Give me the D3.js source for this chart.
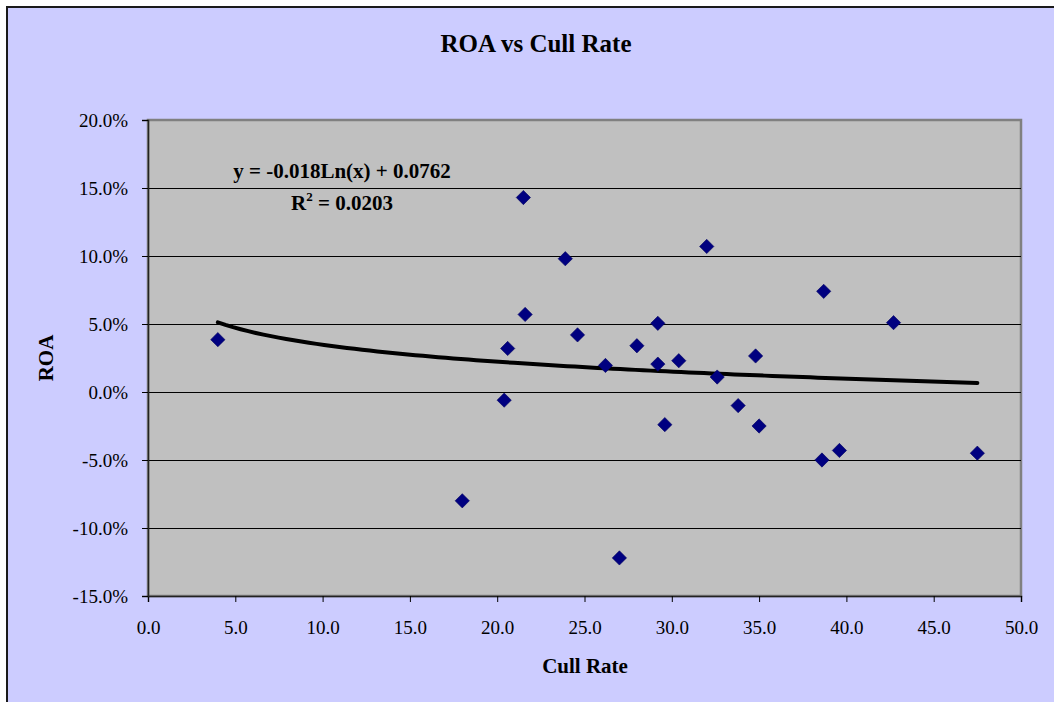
<!DOCTYPE html>
<html>
<head>
<meta charset="utf-8">
<script src="https://cdn.jsdelivr.net/npm/d3@7"></script>
<style>
  body { margin: 0; background: #fff; }
  text { font-family: "Liberation Serif", "Times New Roman", serif; fill: #000; }
</style>
</head>
<body>
<div class="chart"></div>
<script>
// ROA vs Cull Rate

// DATA-------------------------
const cullRate = [4.0, 18.0, 20.4, 20.6, 21.5, 21.6, 23.9, 24.6, 26.2, 27.0, 28.0, 29.2, 29.2,
    29.6, 30.4, 32.0, 32.6, 33.8, 34.8, 35.0, 38.6, 38.7, 39.6, 42.7, 47.5];
const roa = [0.0385, -0.080, -0.006, 0.032, 0.143, 0.057, 0.098, 0.042, 0.0195, -0.122, 0.034, 0.0505, 0.0205,
    -0.024, 0.023, 0.107, 0.011, -0.010, 0.0265, -0.025, -0.050, 0.074, -0.043, 0.051, -0.045];
const xTicks = [0, 5, 10, 15, 20, 25, 30, 35, 40, 45, 50];
const yTicks = [-0.15, -0.10, -0.05, 0, 0.05, 0.10, 0.15, 0.20];
const trendSlope = -0.018;
const trendIntercept = 0.0762;
const trendLabel = "y = -0.018Ln(x) + 0.0762";
const r2Value = "0.0203";

// CHART INIT-------------------------
const W = 1054, H = 702;
const plot = {left: 148, right: 1021, top: 120, bottom: 596};

const svg = d3.select('.chart')
    .append('svg')
    .attr("width", W)
    .attr("height", H);

// chart area
svg.append('rect')
    .attr('x', 7).attr('y', 7)
    .attr('width', W + 10).attr('height', H + 10)
    .attr('fill', '#ccccff')
    .attr('stroke', '#1a1a1a')
    .attr('stroke-width', 2);

const xScale = d3.scaleLinear().domain([0, 50]).range([plot.left, plot.right]);
const yScale = d3.scaleLinear().domain([-0.15, 0.20]).range([plot.bottom, plot.top]);

const loc = d3.formatLocale({decimal: ".", thousands: ",", grouping: [3], currency: ["", ""], minus: "-"});
const fmtPct = loc.format(".1%");
const fmtX = loc.format(".1f");

// plot area
svg.append('rect')
    .attr('x', plot.left).attr('y', plot.top)
    .attr('width', plot.right - plot.left)
    .attr('height', plot.bottom - plot.top)
    .attr('fill', '#c0c0c0')
    .attr('stroke', '#808080')
    .attr('stroke-width', 2.5);

// gridlines
svg.append('g')
    .selectAll('line')
    .data(yTicks.filter(d => d > -0.15 && d < 0.20))
    .enter()
    .append('line')
    .attr('x1', plot.left).attr('x2', plot.right)
    .attr('y1', d => Math.round(yScale(d)) + 0.5)
    .attr('y2', d => Math.round(yScale(d)) + 0.5)
    .attr('stroke', '#000')
    .attr('stroke-width', 1);

// axes
const xAxis = d3.axisBottom(xScale)
    .tickValues(xTicks)
    .tickFormat(fmtX)
    .tickSize(6)
    .tickPadding(19);

const yAxis = d3.axisLeft(yScale)
    .tickValues(yTicks)
    .tickFormat(fmtPct)
    .tickSize(6)
    .tickPadding(14);

svg.append('g')
    .attr('class', 'axis x-axis')
    .attr("transform", `translate(0, ${plot.bottom})`)
    .call(xAxis);

svg.append('g')
    .attr('class', 'axis y-axis')
    .attr("transform", `translate(${plot.left},0)`)
    .call(yAxis);

svg.selectAll('.axis path').attr('stroke', '#222').attr('stroke-width', 1.5);
svg.selectAll('.axis line').attr('stroke', '#000');
svg.selectAll('.axis text')
    .attr('font-family', '"Liberation Serif", "Times New Roman", serif')
    .attr('font-size', 19)
    .attr('fill', '#000');

// trendline (log fit from the equation shown)
const xExt = d3.extent(cullRate);
const trend = d3.range(0, 101).map(i => {
    const x = xExt[0] + (xExt[1] - xExt[0]) * i / 100;
    return [x, trendSlope * Math.log(x) + trendIntercept];
});

svg.append('path')
    .datum(trend)
    .attr('fill', 'none')
    .attr('stroke', '#000')
    .attr('stroke-width', 4)
    .attr('stroke-linecap', 'round')
    .attr('d', d3.line().x(d => xScale(d[0])).y(d => yScale(d[1])));

// points
const points = cullRate.map((c, i) => ({x: c, y: roa[i]}));

svg.append('g')
    .selectAll('path')
    .data(points)
    .enter()
    .append('path')
    .attr('d', d3.symbol().type(d3.symbolDiamond2).size(130))
    .attr('transform', d => `translate(${xScale(d.x)},${yScale(d.y)})`)
    .attr('fill', '#000080')
    .attr('stroke', '#000060')
    .attr('stroke-width', 0.6);

// equation labels
svg.append('text')
    .attr('x', 342).attr('y', 178)
    .attr('text-anchor', 'middle')
    .attr('font-size', 21)
    .attr('font-weight', 'bold')
    .text(trendLabel);

const r2 = svg.append('text')
    .attr('x', 342).attr('y', 210)
    .attr('text-anchor', 'middle')
    .attr('font-size', 21)
    .attr('font-weight', 'bold');
r2.append('tspan').text('R');
r2.append('tspan').attr('dy', -9).attr('font-size', 13).text('2');
r2.append('tspan').attr('dy', 9).text(' = ' + r2Value);

// titles
svg.append('text')
    .attr('x', 536).attr('y', 52)
    .attr('text-anchor', 'middle')
    .attr('font-size', 25)
    .attr('font-weight', 'bold')
    .text('ROA vs Cull Rate');

svg.append('text')
    .attr('x', 585).attr('y', 673)
    .attr('text-anchor', 'middle')
    .attr('font-size', 21)
    .attr('font-weight', 'bold')
    .text('Cull Rate');

svg.append('text')
    .attr('transform', 'translate(53,358) rotate(-90)')
    .attr('text-anchor', 'middle')
    .attr('font-size', 21)
    .attr('font-weight', 'bold')
    .text('ROA');
</script>
</body>
</html>
